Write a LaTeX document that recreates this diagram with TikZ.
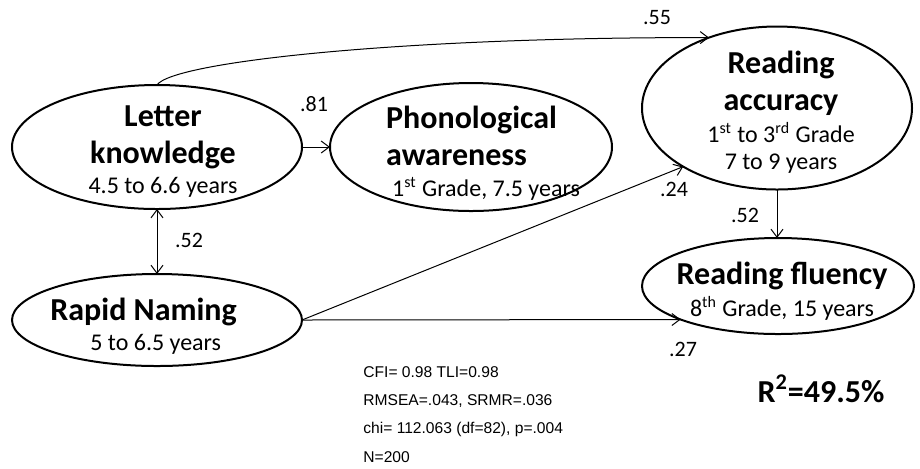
\documentclass[tikz,border=0pt]{standalone}
\usepackage{fontspec}
\setmainfont{Carlito}
\newfontfamily\arialfont{Liberation Sans}
\usetikzlibrary{shapes.geometric,arrows.meta,positioning}
\newcommand{\agetxt}[1]{{\fontsize{12}{14}\selectfont\mdseries #1}}

\begin{document}
\begin{tikzpicture}[
    x=0.5pt, y=-0.5pt,
    var/.style={ellipse, draw, line width=1pt, inner sep=0pt, outer sep=0pt},
    vname/.style={font=\fontsize{16}{18.5}\selectfont\bfseries, align=center, inner sep=0pt},
    coef/.style={font=\fontsize{11}{13}\selectfont, inner sep=0pt},
    fitline/.style={font=\arialfont\fontsize{7.8}{9}\selectfont, anchor=base west, inner sep=0pt},
    arr/.style={-{Straight Barb[length=4pt,width=6pt]}, line width=0.5pt},
    arrboth/.style={{Straight Barb[length=4pt,width=6pt]}-{Straight Barb[length=4pt,width=6pt]}, line width=0.5pt}
]
    \useasboundingbox (0,0) rectangle (920,468);

    % latent variables
    \node[var, minimum width=145pt, minimum height=62pt] (letter) at (157,147) {};
    \node[var, minimum width=141pt, minimum height=64pt] (phono) at (471,147) {};
    \node[var, minimum width=135pt, minimum height=81.5pt] (accuracy) at (777,108) {};
    \node[var, minimum width=136pt, minimum height=48pt] (fluency) at (778,286) {};
    \node[var, minimum width=145pt, minimum height=46pt] (rapid) at (157,320) {};

    \node[vname] (lettertxt) at (163,152) {Letter\\knowledge\\[-3.5pt]\agetxt{4.5 to 6.6 years}};
    \node[vname, align=left] (phonotxt) at (483,153) {Phonological\\awareness\\[-3pt]\agetxt{\hspace*{3pt}1\textsuperscript{st} Grade, 7.5 years}};
    \node[vname] (accuracytxt) at (781,112) {Reading\\accuracy\\[-2.5pt]\agetxt{1\textsuperscript{st} to 3\textsuperscript{rd} Grade}\\[-5pt]\agetxt{7 to 9 years}};
    \node[vname] (fluencytxt) at (782,291) {Reading fluency\\[-2.5pt]\agetxt{8\textsuperscript{th} Grade, 15 years}};
    \node[vname, align=left, anchor=west] (rapidtxt) at (50,326) {Rapid Naming\\[-3.5pt]\agetxt{\hspace*{20pt}5 to 6.5 years}};

    % paths
    \draw[arr] (letter.north) .. controls (172,62) and (400,37) .. (accuracy.134);
    \draw[arr] (letter.east) -- (phono.west);
    \draw[arrboth] (letter.south) -- (rapid.north);
    \draw[arr] (rapid.east) -- (accuracy.212);
    \draw[arr] (rapid.east) -- (fluency.199);
    \draw[arr] (accuracy.south) -- (accuracy.south |- fluency.north);

    % coefficients
    \node[coef] (c55) at (657,18) {.55};
    \node[coef] (c81) at (314,104) {.81};
    \node[coef] (c52a) at (189,240) {.52};
    \node[coef] (c24) at (674,189) {.24};
    \node[coef] (c52b) at (745,215) {.52};
    \node[coef] (c27) at (683,349) {.27};

    \node[vname, anchor=base] (rsq) at (821,402) {R\textsuperscript{2}=49.5\%};

    % model fit
    \node[fitline] (fit1) at (363,377) {CFI= 0.98 TLI=0.98};
    \node[fitline] (fit2) at (363,405) {RMSEA=.043, SRMR=.036};
    \node[fitline] (fit3) at (363,433) {chi= 112.063 (df=82), p=.004};
    \node[fitline] (fit4) at (363,462) {N=200};
\end{tikzpicture}
\end{document}
